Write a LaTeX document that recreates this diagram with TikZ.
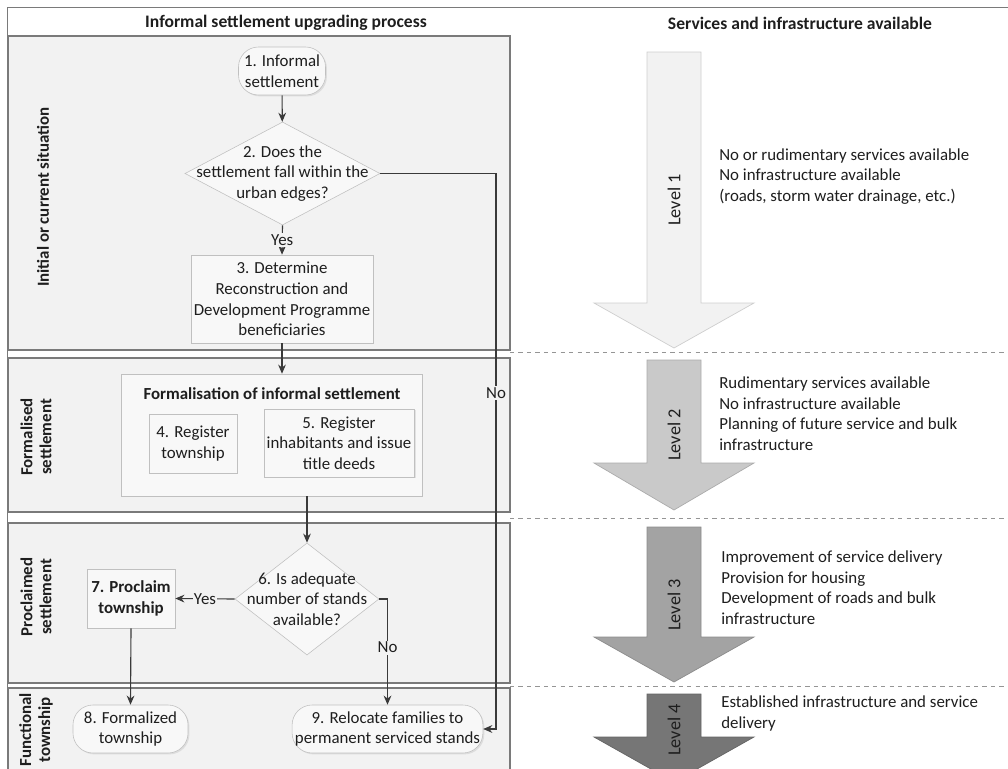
\documentclass[tikz,border=0pt]{standalone}
\usepackage{fontspec}
\setmainfont{Carlito}
\usetikzlibrary{shapes.geometric,arrows.meta,shadows}
\definecolor{lanefill}{HTML}{F2F2F2}
\definecolor{laneline}{HTML}{7A7A7A}
\definecolor{boxfill}{HTML}{F8F8F8}
\definecolor{boxline}{HTML}{C0C0C0}
\definecolor{ink}{HTML}{1E1E1E}
\definecolor{wire}{HTML}{3A3A3A}
\definecolor{lvA}{HTML}{F2F2F2}
\definecolor{lvB}{HTML}{C9C9C9}
\definecolor{lvC}{HTML}{A3A3A3}
\definecolor{lvD}{HTML}{767676}
\begin{document}
\begin{tikzpicture}[x=0.025cm, y=-0.025cm, font=\fontsize{12}{14.6}\selectfont, text=ink,
    box/.style={draw=boxline, fill=boxfill, align=center, inner sep=2pt,
      drop shadow={shadow xshift=1pt, shadow yshift=-1pt, opacity=0.18}},
    term/.style={box, rounded corners=0.5cm, minimum height=1.2cm},
    decision/.style={diamond, draw=boxline, fill=boxfill, inner sep=0pt},
    lane/.style={draw=laneline, fill=lanefill, line width=0.8pt},
    lanetitle/.style={rotate=90, font=\fontsize{12}{13.5}\selectfont\bfseries, align=center},
    flow/.style={draw=wire, line width=0.8pt, -{Stealth[length=6.5pt,width=5.5pt]}},
    tag/.style={fill=lanefill, inner sep=1pt}]
  \useasboundingbox (0,0) rectangle (1008,769);
  % frame and headings
  \draw[laneline] (7,7) -- (1008,7);
  \draw[laneline] (7,7) -- (7,769);
  \node[font=\fontsize{12.5}{14}\selectfont\bfseries] (headL) at (286,23) {Informal settlement upgrading process};
  \node[font=\fontsize{12.5}{14}\selectfont\bfseries] (headR) at (800,23) {Services and infrastructure available};
  % lanes
  \draw[lane] (8,36) rectangle (510,350);
  \draw[lane] (8,358) rectangle (510,512);
  \draw[lane] (8,523) rectangle (510,683);
  \fill[lanefill] (8,688) rectangle (510,770);
  \draw[laneline, line width=0.8pt] (8,770) -- (8,688) -- (510,688) -- (510,770);
  \node[lanetitle] (laneA) at (43,197) {Initial or current situation};
  \node[lanetitle] (laneB) at (36,437) {Formalised\\settlement};
  \node[lanetitle] (laneC) at (36,597) {Proclaimed\\settlement};
  \node[lanetitle] (laneD) at (36,730) {Functional\\township};
  \draw[laneline!80, dashed] (510,352) -- (1008,352);
  \draw[laneline!80, dashed] (510,518) -- (1008,518);
  \draw[laneline!80, dashed] (510,686) -- (1008,686);
  % level arrows
  \foreach \top/\base/\tip/\col in {52/303/348/lvA, 360/463/510/lvB, 527/637/682/lvC, 694/737/782/lvD}
    \draw[fill=\col, draw=\col!85!black, line width=0.5pt] (647,\top) -- (701,\top) -- (701,\base) -- (754,\base)
      -- (674,\tip) -- (594,\base) -- (647,\base) -- cycle;
  \node[rotate=90, font=\fontsize{13}{15}\selectfont] (lv1) at (674,200) {Level 1};
  \node[rotate=90, font=\fontsize{13}{15}\selectfont] (lv2) at (674,435) {Level 2};
  \node[rotate=90, font=\fontsize{13}{15}\selectfont] (lv3) at (674,605) {Level 3};
  \node[rotate=90, font=\fontsize{13}{15}\selectfont] (lv4) at (674,730) {Level 4};
  \node[anchor=west, align=left, inner sep=0pt] (infoA) at (719,176.5) {No or rudimentary services available\\No infrastructure available\\(roads, storm water drainage, etc.)};
  \node[anchor=west, align=left, inner sep=0pt] (infoB) at (719,413.5) {Rudimentary services available\\No infrastructure available\\Planning of future service and bulk\\infrastructure};
  \node[anchor=west, align=left, inner sep=0pt] (infoC) at (721,587.5) {Improvement of service delivery\\Provision for housing\\Development of roads and bulk\\infrastructure};
  \node[anchor=west, align=left, inner sep=0pt] (infoD) at (721,713.5) {Established infrastructure and service\\delivery};
  % process nodes
  \node[term, minimum width=2.175cm] (n1) at (282,71) {1. Informal\\settlement};
  \node[decision, minimum width=4.875cm, minimum height=2.575cm] (q2) at (282.5,173.5) {};
  \node[align=center] (t2) at (q2) {2. Does the\\settlement fall within the\\urban edges?};
  \node[box, minimum width=4.2cm, minimum height=2.2cm] (n3) at (282,299) {3. Determine\\Reconstruction and\\Development Programme\\beneficiaries};
  \node[box, minimum width=7.525cm, minimum height=3.05cm] (grp) at (271.5,435) {};
  \node[font=\fontsize{12}{14.6}\selectfont\bfseries] (grpt) at (272,394) {Formalisation of informal settlement};
  \node[box, minimum width=2.2cm, minimum height=1.475cm] (n4) at (193,443.5) {4. Register\\township};
  \node[box, minimum width=3.35cm, minimum height=1.7cm] (n5) at (339,443) {5. Register\\inhabitants and issue\\title deeds};
  \node[decision, minimum width=3.6cm, minimum height=2.8cm] (q6) at (307,599) {};
  \node[align=center] (t6) at (q6) {6. Is adequate\\number of stands\\available?};
  \node[box, minimum width=2.2cm, minimum height=1.475cm, font=\fontsize{12}{14.6}\selectfont\bfseries] (n7) at (131,598.5) {7. Proclaim\\township};
  \node[term, minimum width=2.875cm] (n8) at (130.5,729) {8. Formalized\\township};
  \node[term, minimum width=4.725cm] (n9) at (387.5,729) {9. Relocate families to\\permanent serviced stands};
  % connectors
  \coordinate (noturn) at (496,173.5);
  \draw[flow] (n1) -- (q2);
  \draw[flow] (q2.south) -- node[tag] {Yes} (n3.north);
  \draw[flow] (n3.south) -- (n3.south |- grp.north);
  \draw[flow] (q6.north |- grp.south) -- (q6.north);
  \draw[flow] (q6.west) -- node[tag] {Yes} (n7.east);
  \draw[flow] (q6.east) -| node[tag, pos=0.73] {No} (n9.north);
  \draw[flow] (n7.south) -- (n8.north);
  \draw[flow] (q2.east) -- (noturn) -- node[tag, pos=0.395] {No} (noturn |- n9.east) -- (n9.east);
\end{tikzpicture}
\end{document}
